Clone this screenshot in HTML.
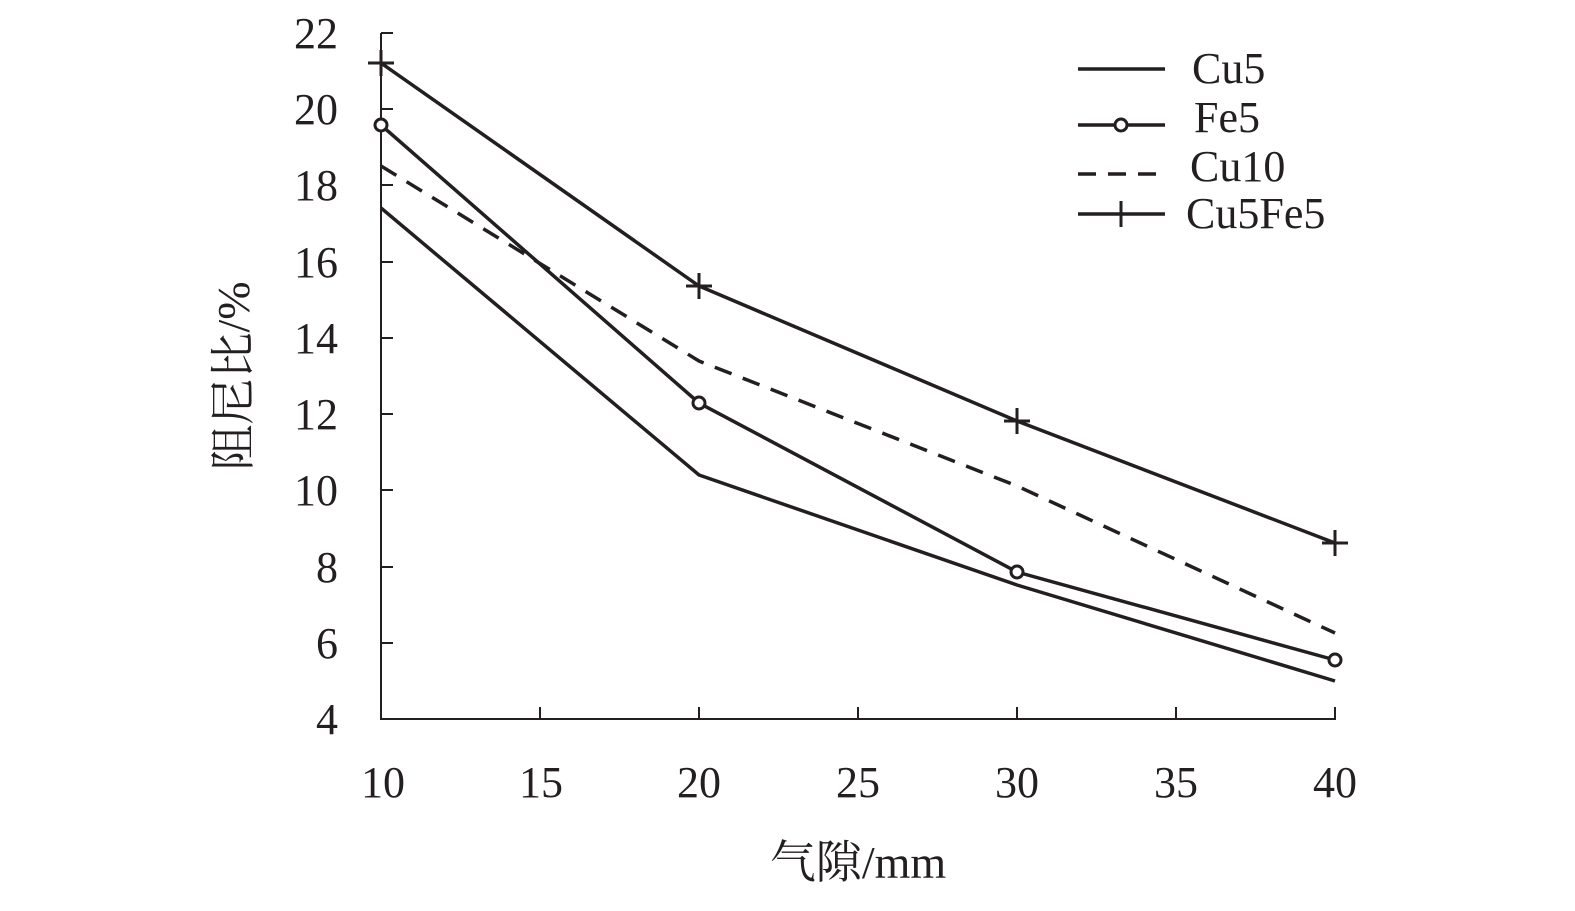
<!DOCTYPE html>
<html><head><meta charset="utf-8"><style>
html,body{margin:0;padding:0;background:#fff}
svg text{font-family:"Liberation Serif","Noto Serif CJK SC",serif;fill:#231f20}
</style></head><body>
<svg width="1575" height="906" viewBox="0 0 1575 906" xmlns="http://www.w3.org/2000/svg">
<g stroke="#231f20" stroke-width="2" fill="none">
<line x1="381" y1="33" x2="381" y2="720"/>
<line x1="380" y1="719" x2="1336" y2="719"/>
<line x1="381" y1="33" x2="393" y2="33"/>
<line x1="381" y1="109" x2="393" y2="109"/>
<line x1="381" y1="185" x2="393" y2="185"/>
<line x1="381" y1="262" x2="393" y2="262"/>
<line x1="381" y1="338" x2="393" y2="338"/>
<line x1="381" y1="414" x2="393" y2="414"/>
<line x1="381" y1="490" x2="393" y2="490"/>
<line x1="381" y1="567" x2="393" y2="567"/>
<line x1="381" y1="643" x2="393" y2="643"/>
<line x1="540" y1="707" x2="540" y2="719"/>
<line x1="699" y1="707" x2="699" y2="719"/>
<line x1="858" y1="707" x2="858" y2="719"/>
<line x1="1017" y1="707" x2="1017" y2="719"/>
<line x1="1176" y1="707" x2="1176" y2="719"/>
<line x1="1335" y1="707" x2="1335" y2="719"/>
</g>
<g font-size="44" text-anchor="end">
<text x="338" y="48">22</text><text x="338" y="124">20</text><text x="338" y="200">18</text>
<text x="338" y="277">16</text><text x="338" y="353">14</text><text x="338" y="429">12</text>
<text x="338" y="505">10</text><text x="338" y="582">8</text><text x="338" y="658">6</text>
<text x="338" y="734">4</text>
</g>
<g font-size="44" text-anchor="middle">
<text x="383" y="797">10</text><text x="541" y="797">15</text><text x="699" y="797">20</text>
<text x="858" y="797">25</text><text x="1017" y="797">30</text><text x="1335" y="797">40</text>
<text x="1176" y="797">35</text>
<text x="858" y="878" font-size="46">气隙/mm</text>
<text transform="translate(249,376) rotate(-90)" font-size="46">阻尼比/%</text>
</g>
<g stroke="#231f20" stroke-width="3.5" fill="none">
<polyline points="381,208 699,475 1017,585 1335,681"/>
<polyline points="381,125 699,403 1017,572 1335,660"/>
<polyline points="381,166 699,361 1017,486 1335,633" stroke-dasharray="18,12"/>
<polyline points="381,63 699,286 1017,421 1335,543"/>
<circle cx="381" cy="125" r="6" fill="#fff" stroke-width="3"/>
<circle cx="699" cy="403" r="6" fill="#fff" stroke-width="3"/>
<circle cx="1017" cy="572" r="6" fill="#fff" stroke-width="3"/>
<circle cx="1335" cy="660" r="6" fill="#fff" stroke-width="3"/>
<path d="M368,63h26M381,50v26M686,286h26M699,273v26M1004,421h26M1017,408v26M1322,543h26M1335,530v26" stroke-width="3"/>
<line x1="1078" y1="69" x2="1165" y2="69"/>
<line x1="1078" y1="125" x2="1165" y2="125"/>
<circle cx="1121" cy="125" r="6" fill="#fff" stroke-width="3"/>
<line x1="1078" y1="174" x2="1165" y2="174" stroke-dasharray="18,12"/>
<line x1="1078" y1="214" x2="1165" y2="214"/>
<path d="M1121,201v26" stroke-width="3"/>
</g>
<g font-size="44">
<text x="1192" y="83">Cu5</text>
<text x="1194" y="132">Fe5</text>
<text x="1190" y="181">Cu10</text>
<text x="1186" y="228">Cu5Fe5</text>
</g>
</svg>
</body></html>
